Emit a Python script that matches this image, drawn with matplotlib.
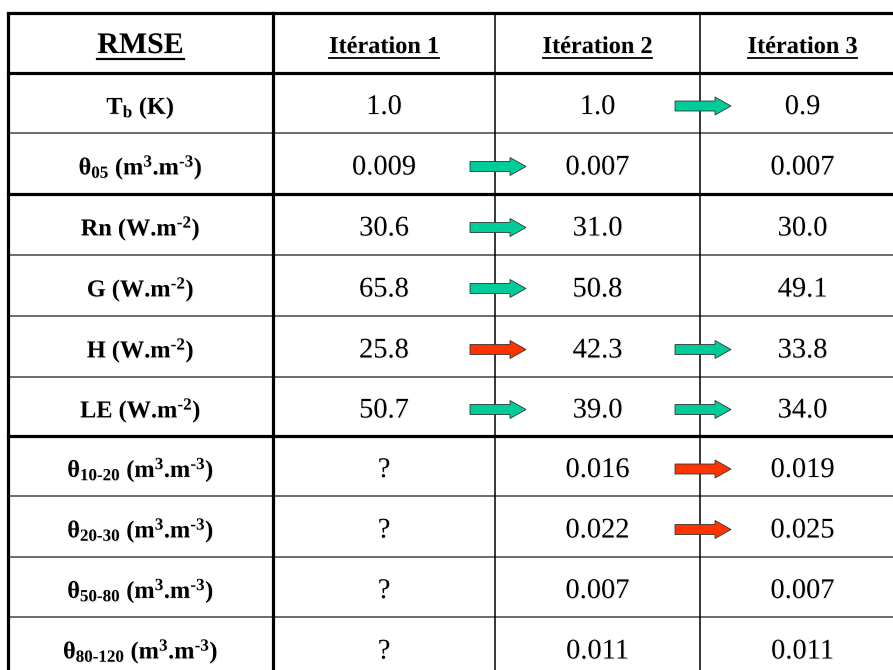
import matplotlib
matplotlib.use("Agg")
import matplotlib.pyplot as plt
import matplotlib.patheffects as pe
from matplotlib.patches import FancyArrow

plt.rcParams['mathtext.fontset'] = 'custom'
plt.rcParams['mathtext.rm'] = 'Liberation Serif:bold'
plt.rcParams['mathtext.it'] = 'Liberation Serif:bold'
plt.rcParams['mathtext.bf'] = 'Liberation Serif:bold'

headers = ["RMSE", "Itération 1", "Itération 2", "Itération 3"]
row_labels = [
    "T$_{b}$ (K)",
    "$θ_{05}$ (m$^{3}$.m$^{‐3}$)",
    "Rn (W.m$^{‐2}$)",
    "G (W.m$^{‐2}$)",
    "H (W.m$^{‐2}$)",
    "LE (W.m$^{‐2}$)",
    "$θ_{10‐20}$ (m$^{3}$.m$^{‐3}$)",
    "$θ_{20‐30}$ (m$^{3}$.m$^{‐3}$)",
    "$θ_{50‐80}$ (m$^{3}$.m$^{‐3}$)",
    "$θ_{80‐120}$ (m$^{3}$.m$^{‐3}$)",
]
iteration_1 = ["1.0", "0.009", "30.6", "65.8", "25.8", "50.7", "?", "?", "?", "?"]
iteration_2 = ["1.0", "0.007", "31.0", "50.8", "42.3", "39.0", "0.016", "0.022", "0.007", "0.011"]
iteration_3 = ["0.9", "0.007", "30.0", "49.1", "33.8", "34.0", "0.019", "0.025", "0.007", "0.011"]

# arrows between iterations: row index -> trend
changes_1_to_2 = {1: "better", 2: "better", 3: "better", 4: "worse", 5: "better"}
changes_2_to_3 = {0: "better", 4: "better", 5: "better", 6: "worse", 7: "worse"}

# --- layout (pixels) ---
col_edges = [8, 273, 495, 700, 905]
row_edges = [13, 73, 133, 194, 255, 316, 377, 436, 496, 557, 617, 678]
thick_rows = [0, 1, 3, 7]
trend_colors = {"better": "#00CC99", "worse": "#FF3300"}

shadow = [pe.SimplePatchShadow(offset=(0.7, -0.7), shadow_rgbFace='#999999', alpha=0.2), pe.Normal()]

fig = plt.figure(figsize=(8.93, 6.70), dpi=100)
ax = fig.add_axes([0, 0, 1, 1])
ax.set_xlim(0, 893)
ax.set_ylim(670, 0)
ax.axis('off')

# grid lines
for i, y in enumerate(row_edges):
    if i in thick_rows:
        ax.plot([col_edges[0], col_edges[-1]], [y, y], color='black', lw=2.3,
                solid_capstyle='projecting')
    else:
        ax.plot([col_edges[0], col_edges[-1]], [y, y], color='#444444', lw=1.1)
for j, x in enumerate(col_edges):
    lw = 2.3 if j < 2 else 1.1
    ax.plot([x, x], [row_edges[0], row_edges[-1]], color='black', lw=lw,
            solid_capstyle='projecting')

centers_x = [(col_edges[j] + col_edges[j + 1]) / 2 for j in range(4)]
centers_y = [(row_edges[i] + row_edges[i + 1]) / 2 for i in range(1, len(row_edges) - 1)]

# header
header_texts = []
for j, h in enumerate(headers):
    size = 21.5 if j == 0 else 17.5
    t = ax.text(centers_x[j], 53, h, ha='center', va='baseline', fontsize=size,
                fontweight='bold', family='Liberation Serif', path_effects=shadow)
    header_texts.append(t)

# body
columns = [iteration_1, iteration_2, iteration_3]
for i, label in enumerate(row_labels):
    yc = centers_y[i]
    ax.text(centers_x[0], yc + 11, label, ha='center', va='baseline', fontsize=17.5,
            fontweight='bold', family='Liberation Serif', path_effects=shadow)
    for j, col in enumerate(columns):
        ax.text(centers_x[j + 1], yc + 11, col[i], ha='center', va='baseline',
                fontsize=20.5, family='Liberation Serif', path_effects=shadow)

# arrows
for boundary, changes in [(col_edges[2], changes_1_to_2), (col_edges[3], changes_2_to_3)]:
    for i, trend in changes.items():
        arr = FancyArrow(boundary - 25, centers_y[i] + 3, 56, 0, width=10, head_width=18,
                         head_length=16, length_includes_head=True,
                         fc=trend_colors[trend], ec='#333333', lw=0.6, zorder=3)
        ax.add_patch(arr)

# underline headers
fig.canvas.draw()
renderer = fig.canvas.get_renderer()
inv = ax.transData.inverted()
for j, t in enumerate(header_texts):
    bb = t.get_window_extent(renderer)
    x0, _ = inv.transform((bb.x0, bb.y0))
    x1, _ = inv.transform((bb.x1, bb.y0))
    y = 59 if j == 0 else 57.5
    ax.plot([x0, x1], [y, y], color='black', lw=1.6 if j == 0 else 1.3)

fig.savefig("out.png", dpi=100)
